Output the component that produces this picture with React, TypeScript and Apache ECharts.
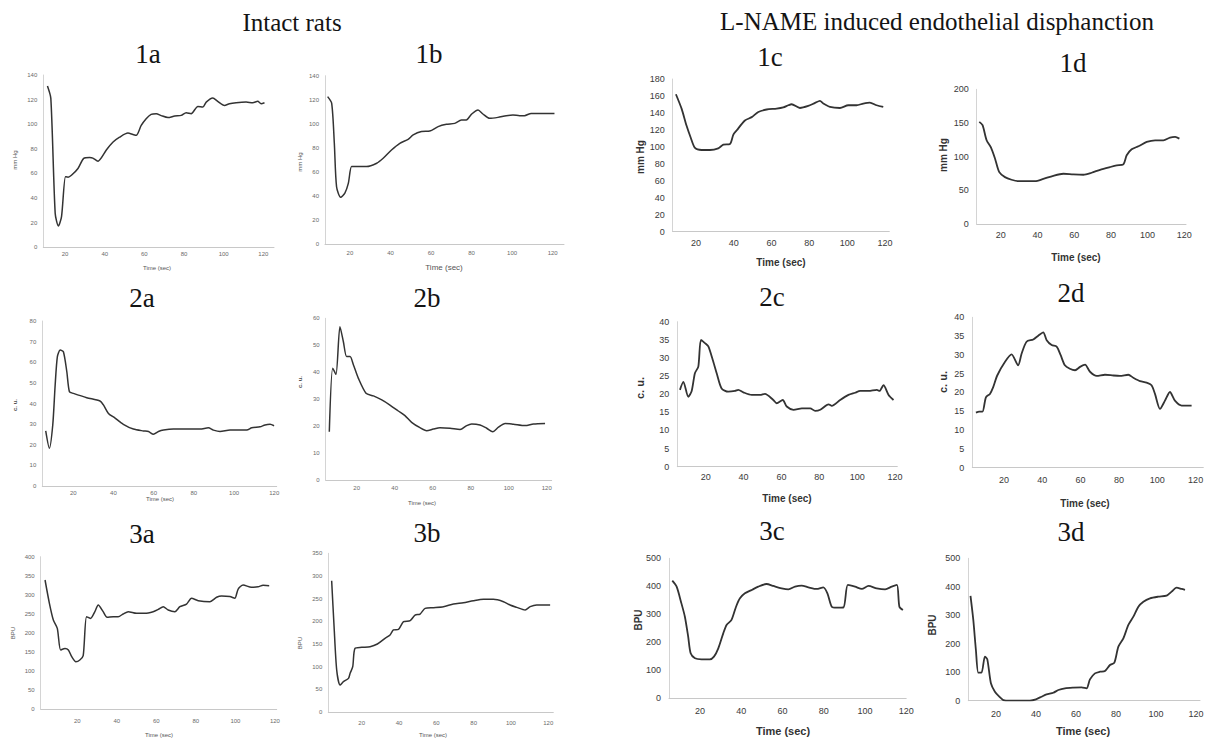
import React, { useEffect, useRef } from "react";
import * as echarts from "echarts";

type P = [number, number];

// ---- data (time in sec, value) ----
const bp1a: P[] = [[11.1,131],[12.8,121],[15,27.6],[16.6,17.3],[18.2,25],[20.2,57.4],[21.5,57],[23.2,58.5],[26.5,64],[29.4,72.3],[32.4,73],[34,72.5],[36.6,70],[38.3,72.8],[40.8,79],[44.2,85.5],[47.5,89.5],[51.7,92.8],[54.2,91.7],[55.9,91],[58.4,99],[60.9,104.5],[63.4,108],[66,108.6],[68.5,107],[71.9,105.4],[75.3,106.7],[78.6,107.2],[81.1,109.4],[83.6,108.6],[87,114.5],[89.5,114],[91.2,118],[94.5,121.3],[97,118.6],[100.4,115.3],[102.9,116.7],[106.3,117.5],[111.3,118],[114.7,117.5],[117.2,118.6],[118.9,116.7],[120.6,117.5]];
const bp1b: P[] = [[9,122.6],[11,117],[12.3,83.9],[13.4,47.8],[15.4,39],[17.5,42.5],[19.2,50.6],[20.8,64.5],[22.5,64.5],[28.2,64.5],[33.2,67.3],[36.4,71.4],[40.5,78.3],[44.6,83.9],[48.7,87.2],[51.2,90.8],[55.3,93.6],[59.4,94],[63.5,97.7],[67.6,99.6],[71.7,100.4],[75,103.2],[77.4,103.2],[79.9,107.9],[83.2,111.5],[85.6,108.2],[88.9,104.6],[93,105.4],[97.1,106.8],[100.4,107.4],[103.7,106.8],[106.1,106.8],[109.4,108.7],[115.2,108.7],[120.9,108.7]];
const bp1c: P[] = [[9.4,162],[12.4,145],[15,125],[17.2,111],[19.5,98.6],[23,96.2],[27.4,96.2],[31.8,98.2],[34.5,102.5],[38,103.3],[39.8,114.4],[41.5,119.2],[45.9,131],[49.5,135],[53,141],[57.4,144],[62.7,145],[66.2,146.4],[68.9,149],[70.6,150.2],[75,145.8],[79.4,148.2],[83,151.8],[85.6,154.2],[87.4,151],[90.9,147],[96.2,145.8],[100.6,149],[105,149],[108.5,151],[112,152.2],[115.6,149],[119.1,147]];
const bp1d: P[] = [[8.3,151.6],[10.1,146.7],[12.3,124.3],[14.7,113.4],[16.9,97],[19.2,77],[22.3,69.6],[25.9,65.7],[29.6,63.6],[34.1,63.6],[38.7,63.6],[43.2,67],[48.6,71.6],[54.1,74.6],[59.5,73.6],[65,73.1],[69.5,76.1],[74.1,80.5],[79.5,84.5],[83.2,87],[86.8,88.5],[88.6,102],[91.3,110.9],[95,115.4],[99.5,121.8],[104.1,124.3],[108.6,124.3],[112.2,128.3],[115,129.3],[117.3,126.8]];
const cu2a: P[] = [[6.3,26.7],[8.1,18.3],[9.8,29.6],[11,49],[12.1,62.7],[13.5,65.9],[15.1,65.1],[16.8,55.4],[18.1,45.7],[20.1,44.9],[26.7,42.8],[33.3,41.2],[35,39.3],[37.5,35.2],[40.8,32.9],[44.9,29.9],[49.9,27.6],[54.9,26.7],[57.4,26.4],[59.9,25.1],[62.4,26.4],[64.9,27.1],[69.8,27.6],[76.5,27.6],[83.1,27.6],[87.2,28.2],[89.7,27.1],[93,26.4],[98,27.1],[103,27.1],[106.3,27.1],[108.8,28.2],[112.9,28.7],[115.4,29.6],[117.9,29.9],[119.9,29.2]];
const cu2b: P[] = [[5.6,17.9],[7.4,41.5],[9.1,39.2],[11.2,56.9],[13,51.3],[14.7,45.8],[16.5,45.8],[18.3,42.7],[20.9,37.7],[24.9,32.2],[28.8,31.2],[33.2,29.7],[37.5,27.8],[41.9,25.6],[45.4,23.9],[48.9,21.4],[53.3,19.4],[56.8,18.3],[60.3,18.9],[63.8,19.4],[69.1,19.2],[74.4,18.7],[77.9,20.2],[80.5,20.8],[84.9,20.4],[88.4,19.2],[91.6,17.9],[94.6,19.6],[98.1,21],[102.5,20.7],[108.6,20.2],[113,20.8],[119.1,21]];
const cu2c: P[] = [[6.4,21.2],[8.2,23.4],[10.8,19.3],[12.6,20.9],[14.3,25.8],[16.1,27.6],[17.5,35],[19.6,34.1],[21.4,33.2],[23.7,29.5],[25.8,25.8],[28.4,21.6],[31.9,20.7],[35.5,20.9],[37.2,21.2],[39.9,20.5],[44.3,19.8],[48.7,19.8],[51.3,20.1],[55.7,18.4],[57.5,17.5],[60.7,18.4],[62.8,16.6],[66.4,15.7],[70.8,16.1],[75.2,16.1],[77.8,15.4],[80.5,15.7],[84.9,17.2],[86.6,16.8],[91,18.4],[95.4,19.8],[98.9,20.4],[101.6,20.9],[106,20.9],[110.4,21.2],[111.8,20.9],[113.9,22.5],[116.6,19.8],[119.2,18.4]];
const cu2d: P[] = [[5.4,14.6],[7.1,14.9],[8.8,14.9],[10.6,18.7],[12.7,19.6],[14.4,21.4],[16.5,24.5],[20.5,28.1],[24,30.1],[27.4,27.2],[29.2,30.3],[31.8,33.5],[35.3,34.1],[37.9,35.1],[40.5,36],[42.3,33.9],[44.9,32.6],[47.5,32.2],[49.6,29.9],[51.8,27.2],[54.4,26.3],[57.1,25.9],[59.7,26.8],[62.3,27.4],[64.9,25.5],[68.4,24.4],[72.7,24.7],[77.1,24.5],[80.5,24.4],[84.9,24.7],[87.5,23.9],[91,23],[94.4,22.6],[97,21.9],[98.8,19.6],[101.4,15.6],[104,17.8],[106.6,20.1],[109.2,17.8],[112.7,16.5],[117.9,16.5]];
const bpu3a: P[] = [[3.7,338.8],[5.9,277.6],[7.9,233.7],[9.9,211.9],[11.6,155],[13.8,159],[15.5,155],[17.2,137.4],[19.3,124.3],[21.3,128.7],[23,140],[24.7,242.4],[26.7,238],[28.9,255.6],[30.6,273.1],[33.1,255.6],[35.1,240.7],[38.2,242.4],[40.7,242.4],[43.2,249.5],[45.8,255.6],[50,251.2],[54.2,251.2],[58.4,255.6],[61,261.7],[63.5,268.7],[66,260],[69.4,255.6],[71.9,268.7],[75.3,275.7],[77.8,290.7],[81.2,284.6],[87.1,282],[90.5,293.4],[93,296.9],[97.2,295.2],[99.7,290.7],[101.4,315.1],[103.9,325.6],[108.1,319.5],[111.5,321.2],[114,324.7],[117.1,323.8]];
const bpu3b: P[] = [[3.9,289.6],[5.2,188.1],[6.6,92.6],[8.4,59.5],[10.2,66.9],[12.9,74.2],[13.8,85.3],[15.2,99.9],[16.4,140.4],[20,142.6],[24.5,144.1],[28.4,150],[32.5,162.5],[35.2,169.8],[37,180.9],[39.7,182.3],[42.4,199.2],[46,201.4],[48.6,213.9],[51.3,216.1],[54,228.6],[58.5,230.1],[63.8,232.3],[69.2,238.2],[74.5,241.1],[79.9,245.5],[85.3,248.5],[90.6,248.5],[96,243.3],[99.5,236],[103.1,230.8],[107.6,225],[110.3,232.3],[113.8,236],[117.4,236],[121,236]];
const bpu3c: P[] = [[6.6,420],[8.7,398.6],[10.8,345],[12.7,291.4],[14.3,220],[15.5,160.7],[17.6,143],[20.8,139.3],[24.8,139.3],[26.8,148.8],[28.9,178.6],[31.3,232],[32.9,262],[35.3,279.8],[37.5,327],[39.4,357],[41.8,375],[45.1,386.9],[48.3,398.8],[52.3,408.3],[55.6,401.2],[59.6,392.9],[62.9,389.3],[66.1,398.8],[69.3,402.4],[72.6,396.4],[76.6,390.5],[79.8,396.4],[81.8,375],[83.9,327],[86.3,323.6],[89.6,324.8],[91.7,404.8],[95.2,398.8],[98.5,390.5],[101.7,401.2],[105.7,392.9],[109.8,389.3],[113,398.8],[115.5,404.8],[116.7,327],[118.4,315]];
const bpu3d: P[] = [[7.3,367.8],[8.7,283.5],[10,178],[11.2,98.4],[12.8,98.4],[14.5,154.6],[15.7,145.2],[17.5,61.1],[19.5,31.6],[21.7,14],[23.7,2.3],[27,0],[32,0],[37,0.5],[40,5],[42.8,14],[45.3,22.2],[48.7,28],[51.2,37.5],[54.5,43.3],[58.7,45.7],[62.8,46.8],[65.3,43.3],[67,74.9],[69.5,96],[72,101.8],[74.5,104.2],[77,125.2],[79.2,133.4],[81.2,189.7],[83.7,219],[86.2,265.9],[88.7,295.2],[91.2,330.3],[93.7,347.8],[97,359.5],[101.2,365.3],[105.3,368.8],[107.8,382.9],[110.3,397],[112.8,392.3],[114.5,388.8]];

const xTickValues = [20, 40, 60, 80, 100, 120];
const headers = ["Intact rats", "L-NAME induced endothelial disphanction"];
const panelTitles = ["1a", "1b", "1c", "1d", "2a", "2b", "2c", "2d", "3a", "3b", "3c", "3d"];
const yNames = ["mm Hg", "mm Hg", "mm Hg", "mm Hg", "c. u.", "c. u.", "c. u.", "c. u.", "BPU", "BPU", "BPU", "BPU"];
const xName = "Time (sec)";
const seriesData = [bp1a, bp1b, bp1c, bp1d, cu2a, cu2b, cu2c, cu2d, bpu3a, bpu3b, bpu3c, bpu3d];
const yMax = [140, 140, 180, 200, 80, 60, 40, 40, 400, 350, 500, 500];
const yStep = [20, 20, 20, 50, 10, 10, 5, 5, 50, 50, 100, 100];

// layout (pixels) per panel
const layout = [
  { l: 43.3, r: 274, t: 75, b: 247.3, xmin: 9, xmax: 125.4, small: true, tx: 148, ty: 54, yx: 15, yy: 160, nx: 157, ny: 268, nsz: 6, xm: 4 },
  { l: 325, r: 564, t: 75.7, b: 244.3, xmin: 7.7, xmax: 125.6, small: true, tx: 429, ty: 54, yx: 300, yy: 162, nx: 444, ny: 267, nsz: 8, xm: 6 },
  { l: 672.7, r: 889.3, t: 79, b: 231.5, xmin: 7.7, xmax: 122.3, small: false, tx: 770, ty: 57, yx: 640, yy: 157, nx: 781, ny: 262, nsz: 10, xm: 7 },
  { l: 976.7, r: 1186, t: 89.3, b: 224, xmin: 6.9, xmax: 120.9, small: false, tx: 1073, ty: 63, yx: 943, yy: 155, nx: 1076, ny: 257, nsz: 10, xm: 6 },
  { l: 42.3, r: 276.7, t: 321, b: 486, xmin: 4.6, xmax: 121.2, small: true, tx: 142, ty: 298, yx: 15, yy: 405, nx: 160, ny: 499, nsz: 6, xm: 4 },
  { l: 325.7, r: 551.7, t: 318.3, b: 480, xmin: 3.7, xmax: 122.6, small: true, tx: 427, ty: 298, yx: 300, yy: 382, nx: 422, ny: 503, nsz: 6, xm: 5 },
  { l: 677.3, r: 897.3, t: 321.7, b: 466.7, xmin: 5, xmax: 121.2, small: false, tx: 772, ty: 297, yx: 640, yy: 388, nx: 787, ny: 498, nsz: 10, xm: 6 },
  { l: 972.3, r: 1203.3, t: 317.3, b: 467.5, xmin: 3.5, xmax: 124, small: false, tx: 1071, ty: 293, yx: 943, yy: 382, nx: 1085, ny: 503, nsz: 10, xm: 8 },
  { l: 40.7, r: 276.7, t: 556.7, b: 709, xmin: 1.5, xmax: 120.9, small: true, tx: 142, ty: 534, yx: 13, yy: 633, nx: 159, ny: 735, nsz: 6, xm: 9 },
  { l: 328.3, r: 553.3, t: 553.3, b: 712, xmin: 2.1, xmax: 122.7, small: true, tx: 427, ty: 533, yx: 300, yy: 643, nx: 433, ny: 735, nsz: 6, xm: 8 },
  { l: 669, r: 906.2, t: 558.3, b: 698.3, xmin: 5, xmax: 120, small: false, tx: 772, ty: 531, yx: 638, yy: 620, nx: 783, ny: 731, nsz: 11, xm: 8 },
  { l: 968.3, r: 1200, t: 558.3, b: 700.7, xmin: 6.2, xmax: 122, small: false, tx: 1071, ty: 532, yx: 932, yy: 625, nx: 1083, ny: 731, nsz: 11, xm: 9 },
];

const SANS = "'Liberation Sans', Arial, sans-serif";
const SERIF = "'Liberation Serif', 'Times New Roman', serif";

export default function App() {
  const ref = useRef<HTMLDivElement>(null);
  useEffect(() => {
    if (!ref.current) return;
    const chart = echarts.init(ref.current, null, { renderer: "svg" });
    const grid: any[] = [];
    const xAxis: any[] = [];
    const yAxis: any[] = [];
    const series: any[] = [];
    const graphic: any[] = [];

    layout.forEach((p, i) => {
      const lblSize = p.small ? 6 : 9;
      const lblColor = p.small ? "#6a6a6a" : "#3a3a3a";
      grid.push({ left: p.l, top: p.t, width: p.r - p.l, height: p.b - p.t, containLabel: false });
      xAxis.push({
        type: "value", gridIndex: i, min: p.xmin, max: p.xmax,
        axisLine: { show: true, lineStyle: { color: "#c8c8c8", width: 1 } },
        axisTick: { show: false }, splitLine: { show: false },
        axisLabel: {
          customValues: xTickValues.filter((v) => v >= p.xmin && v <= p.xmax + 0.01),
          fontSize: lblSize, color: lblColor, fontFamily: SANS, margin: p.xm,
        },
      });
      yAxis.push({
        type: "value", gridIndex: i, min: 0, max: yMax[i], interval: yStep[i],
        axisLine: { show: true, lineStyle: { color: "#d4d4d4", width: 1 } },
        axisTick: { show: false }, splitLine: { show: false },
        axisLabel: { fontSize: lblSize, color: lblColor, fontFamily: SANS, margin: p.small ? 6 : 8 },
      });
      series.push({
        type: "line", xAxisIndex: i, yAxisIndex: i, data: seriesData[i],
        showSymbol: false, smooth: 0.25,
        lineStyle: { color: "#333333", width: p.small ? 1.5 : 1.8 },
      });
      graphic.push({
        type: "text", x: p.tx, y: p.ty,
        style: { text: panelTitles[i], font: `27px ${SERIF}`, fill: "#141414", textAlign: "center", textVerticalAlign: "middle" },
      });
      const isCu = yNames[i] === "c. u.";
      graphic.push({
        type: "text", x: p.yx, y: p.yy, rotation: Math.PI / 2,
        style: {
          text: yNames[i],
          font: `${isCu || !p.small ? "bold " : ""}${p.small ? 6 : isCu ? 11 : 10}px ${SANS}`,
          fill: p.small ? "#555" : "#333",
          textAlign: "center", textVerticalAlign: "middle",
        },
      });
      graphic.push({
        type: "text", x: p.nx, y: p.ny,
        style: {
          text: xName, font: `${p.small ? "" : "bold "}${p.nsz}px ${SANS}`,
          fill: p.small ? "#555" : "#333", textAlign: "center", textVerticalAlign: "middle",
        },
      });
    });

    graphic.push({
      type: "text", x: 292, y: 22,
      style: { text: headers[0], font: `25px ${SERIF}`, fill: "#141414", textAlign: "center", textVerticalAlign: "middle" },
    });
    graphic.push({
      type: "text", x: 937, y: 21,
      style: { text: headers[1], font: `25px ${SERIF}`, fill: "#141414", textAlign: "center", textVerticalAlign: "middle" },
    });

    chart.setOption({
      animation: false,
      backgroundColor: "#ffffff",
      grid, xAxis, yAxis, series, graphic,
    });
    return () => chart.dispose();
  }, []);
  return (
    <div
      ref={ref}
      style={{ position: "absolute", left: 0, top: 0, width: 1208, height: 739, background: "#fff" }}
    />
  );
}
